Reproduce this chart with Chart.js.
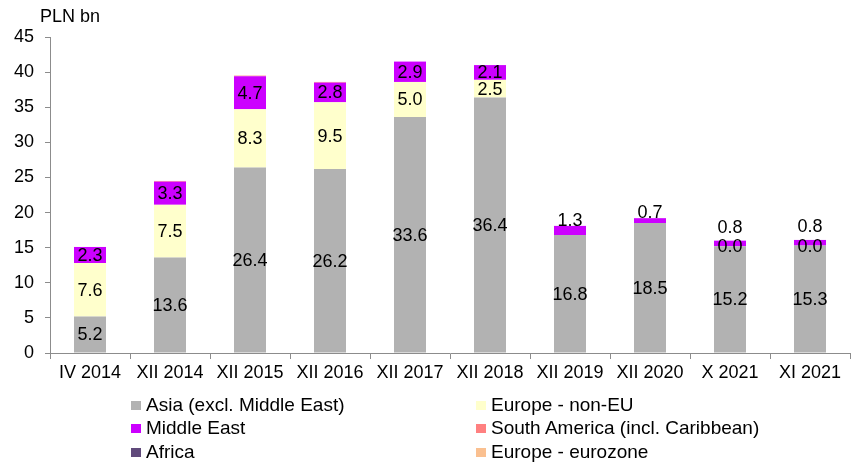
<!DOCTYPE html>
<html>
<head>
<meta charset="utf-8">
<script src="https://cdn.jsdelivr.net/npm/chart.js@4.4.1/dist/chart.umd.min.js"></script>
<style>
  html,body{margin:0;padding:0;background:#fff;}
  #wrap{position:relative;width:859px;height:466px;}
  #legend{position:absolute;left:131px;top:394px;width:720px;font-family:"Liberation Sans",Arial,sans-serif;font-size:19px;color:#000;}
  .li{position:absolute;white-space:nowrap;line-height:22px;height:22px;}
  .sw{position:absolute;left:0;top:7px;width:10px;height:9px;}
  .tx{position:absolute;left:15px;top:0;}
</style>
</head>
<body>
<div id="wrap">
<canvas id="c" width="859" height="466"></canvas>
<div id="legend"></div>
</div>
<script>
const categories = ["IV 2014","XII 2014","XII 2015","XII 2016","XII 2017","XII 2018","XII 2019","XII 2020","X 2021","XI 2021"];
const asia         = [5.2, 13.6, 26.4, 26.2, 33.6, 36.4, 16.8, 18.5, 15.2, 15.3];
const europeNonEU  = [7.6, 7.5, 8.3, 9.5, 5.0, 2.5, null, null, 0.0, 0.0];
const middleEast   = [2.3, 3.3, 4.7, 2.8, 2.9, 2.1, 1.3, 0.7, 0.8, 0.8];
const southAmerica = [0.0, 0.1, 0.1, 0.1, 0.0, 0.0, 0.0, 0.0, 0.0, 0.0];
const africa       = [0.0, 0.0, 0.0, 0.0, 0.0, 0.0, 0.0, 0.0, 0.0, 0.0];
const europeEuro   = [0.0, 0.0, 0.0, 0.0, 0.0, 0.0, 0.0, 0.0, 0.0, 0.0];
const seriesNames  = ["Asia (excl. Middle East)","Europe - non-EU","Middle East","South America (incl. Caribbean)","Africa","Europe - eurozone"];
const seriesColors = ["#b2b2b2","#ffffcc","#cc00ff","#ff8080","#604a7b","#fac090"];
const yTicks = [0,5,10,15,20,25,30,35,40,45];
const yUnit = "PLN bn";

const FONT = '"Liberation Sans", Arial, sans-serif';
const allSeries = [asia, europeNonEU, middleEast, southAmerica, africa, europeEuro];

const labelPlugin = {
  id: 'labels',
  afterDatasetsDraw(chart) {
    const ctx = chart.ctx;
    ctx.save();
    ctx.font = '18px ' + FONT;
    ctx.fillStyle = '#000';
    ctx.textAlign = 'center';
    ctx.textBaseline = 'middle';
    for (let d = 0; d < 3; d++) {
      const meta = chart.getDatasetMeta(d);
      meta.data.forEach((el, i) => {
        const v = allSeries[d][i];
        if (v === null || v === undefined) return;
        const top = Math.min(el.y, el.base), bot = Math.max(el.y, el.base);
        let y = (top + bot) / 2;
        if (d === 2 && bot - top < 12) {
          y = (europeNonEU[i] === 0) ? top - 14 : top - 6;
        }
        ctx.fillText(v.toFixed(1), el.x, y + 1);
      });
    }
    ctx.textAlign = 'left';
    ctx.fillText(yUnit, 40, 17);
    ctx.restore();
  }
};

const datasets = allSeries.map((arr, k) => ({
  label: seriesNames[k],
  data: arr,
  backgroundColor: seriesColors[k],
  borderWidth: 0,
  barPercentage: 0.4,
  categoryPercentage: 1.0
}));

new Chart(document.getElementById('c'), {
  type: 'bar',
  data: { labels: categories, datasets },
  options: {
    responsive: false,
    animation: false,
    layout: { padding: { top: 37, right: 9, bottom: 78, left: 0 } },
    plugins: { legend: { display: false }, tooltip: { enabled: false } },
    scales: {
      x: {
        stacked: true,
        grid: { display: true, offset: true, drawOnChartArea: false, drawTicks: true, tickLength: 6, color: '#8c8c8c' },
        border: { display: true, color: '#8c8c8c' },
        ticks: { font: { family: FONT, size: 18 }, color: '#000', padding: 3, maxRotation: 0, autoSkip: false },
        afterFit(s) { s.height = 35; }
      },
      y: {
        stacked: true,
        min: 0, max: 45,
        afterBuildTicks(s) { s.ticks = yTicks.map(v => ({ value: v })); },
        grid: { display: true, drawOnChartArea: false, drawTicks: true, tickLength: 5, color: '#8c8c8c' },
        border: { display: true, color: '#8c8c8c' },
        ticks: { font: { family: FONT, size: 18 }, color: '#000', padding: 11 },
        afterFit(s) { s.width = 50; }
      }
    }
  },
  plugins: [labelPlugin]
});

const leg = document.getElementById('legend');
seriesNames.forEach((n, k) => {
  const col = k % 2, row = Math.floor(k / 2);
  const div = document.createElement('div');
  div.className = 'li';
  div.style.left = (col * 345) + 'px';
  div.style.top = (row * 23.3) + 'px';
  div.innerHTML = '<span class="sw" style="background:' + seriesColors[k] + '"></span><span class="tx">' + n + '</span>';
  leg.appendChild(div);
});
</script>
</body>
</html>
